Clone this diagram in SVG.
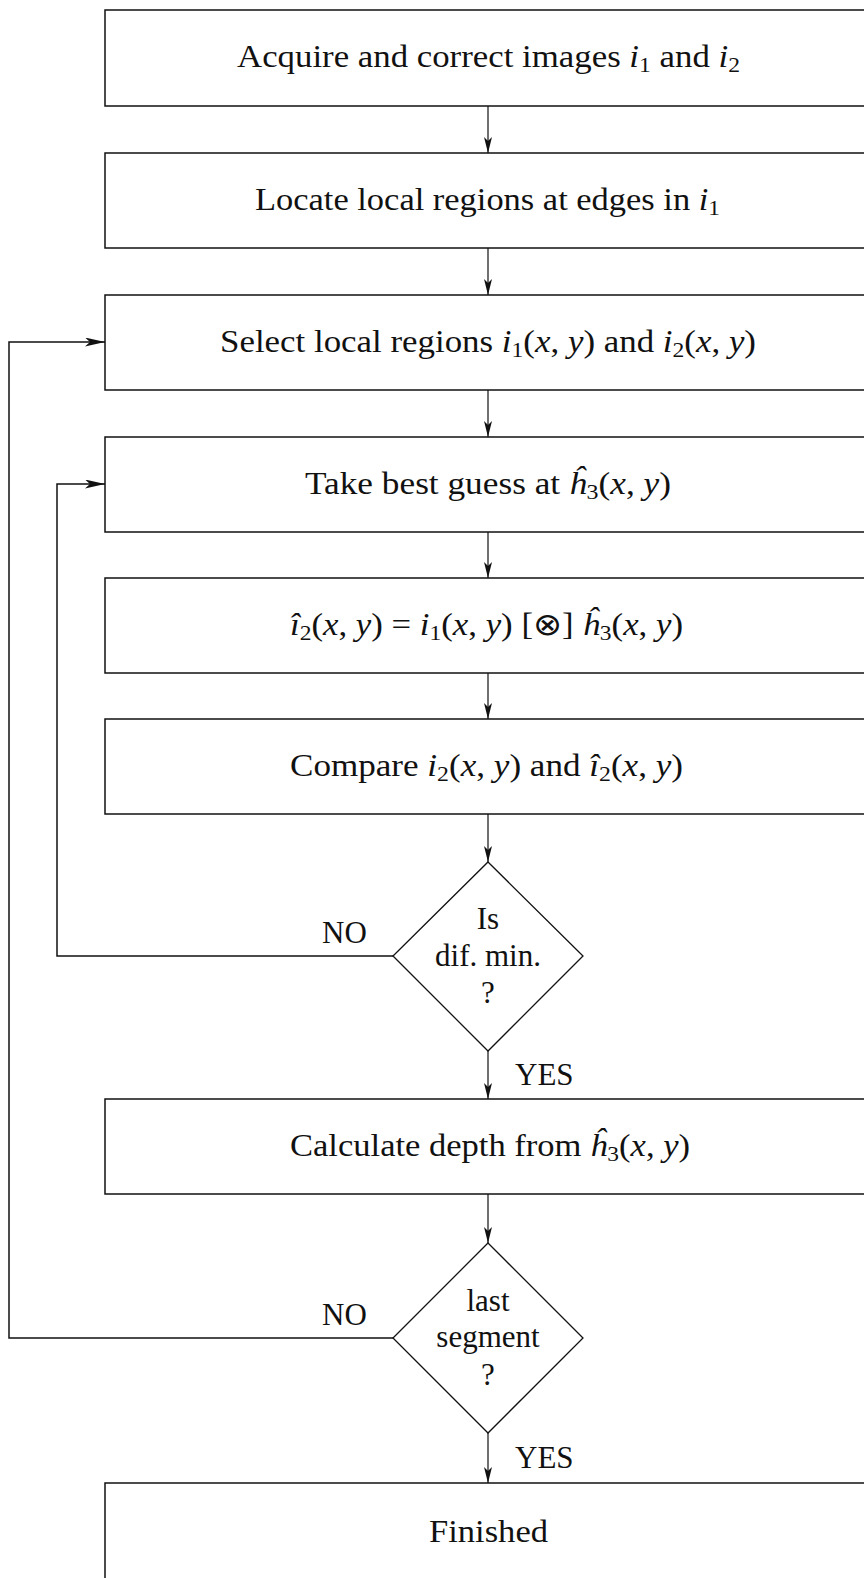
<svg xmlns="http://www.w3.org/2000/svg" width="864" height="1578" viewBox="0 0 864 1578">
<style>
  .box { fill: #fff; stroke: #111; stroke-width: 1.5; }
  .dia { fill: #fff; stroke: #111; stroke-width: 1.3; }
  .con { fill: none; stroke: #111; stroke-width: 1.2; }
  .conL { fill: none; stroke: #111; stroke-width: 1.5; }
  text { font-family: "Liberation Serif", "Times New Roman", serif; font-size: 31px; fill: #111; }
  .c { text-anchor: middle; }
  .m { font-style: italic; }
  .s { font-size: 21px; }
</style>
<defs>
  <marker id="arrS" markerUnits="userSpaceOnUse" viewBox="0 0 16 8" refX="16" refY="4" markerWidth="16" markerHeight="8" orient="auto">
    <path d="M0,0 L16,4 L0,8 L4,4 z" fill="#111"/>
  </marker>
  <marker id="arrL" markerUnits="userSpaceOnUse" viewBox="0 0 20 9" refX="20" refY="4.5" markerWidth="20" markerHeight="9" orient="auto">
    <path d="M0,0 L20,4.5 L0,9 L5,4.5 z" fill="#111"/>
  </marker>
</defs>

<g id="connectors">
  <line class="con" x1="488" y1="106" x2="488" y2="153" marker-end="url(#arrS)"/>
  <line class="con" x1="488" y1="248" x2="488" y2="295" marker-end="url(#arrS)"/>
  <line class="con" x1="488" y1="390" x2="488" y2="437" marker-end="url(#arrS)"/>
  <line class="con" x1="488" y1="532" x2="488" y2="578" marker-end="url(#arrS)"/>
  <line class="con" x1="488" y1="673" x2="488" y2="719" marker-end="url(#arrS)"/>
  <line class="con" x1="488" y1="814" x2="488" y2="862" marker-end="url(#arrS)"/>
  <line class="con" x1="488" y1="1051" x2="488" y2="1099" marker-end="url(#arrS)"/>
  <line class="con" x1="488" y1="1194" x2="488" y2="1243" marker-end="url(#arrS)"/>
  <line class="con" x1="488" y1="1433" x2="488" y2="1483" marker-end="url(#arrS)"/>
  <polyline class="conL" points="393,956 57,956 57,484 105,484" marker-end="url(#arrL)"/>
  <polyline class="conL" points="393,1338 9,1338 9,342 105,342" marker-end="url(#arrL)"/>
</g>

<g id="n1">
  <rect class="box" x="105" y="10" width="780" height="96"/>
  <text x="237" y="67" textLength="503" lengthAdjust="spacingAndGlyphs">Acquire and correct images <tspan class="m">i</tspan><tspan class="s" dy="5">1</tspan><tspan dy="-5"> and </tspan><tspan class="m">i</tspan><tspan class="s" dy="5">2</tspan></text>
</g>
<g id="n2">
  <rect class="box" x="105" y="153" width="780" height="95"/>
  <text x="255" y="210" textLength="465" lengthAdjust="spacingAndGlyphs">Locate local regions at edges in <tspan class="m">i</tspan><tspan class="s" dy="5">1</tspan></text>
</g>
<g id="n3">
  <rect class="box" x="105" y="295" width="780" height="95"/>
  <text x="220" y="352" textLength="536" lengthAdjust="spacingAndGlyphs">Select local regions <tspan class="m">i</tspan><tspan class="s" dy="5">1</tspan><tspan dy="-5">(</tspan><tspan class="m">x</tspan>, <tspan class="m">y</tspan>) and <tspan class="m">i</tspan><tspan class="s" dy="5">2</tspan><tspan dy="-5">(</tspan><tspan class="m">x</tspan>, <tspan class="m">y</tspan>)</text>
</g>
<g id="n4">
  <rect class="box" x="105" y="437" width="780" height="95"/>
  <text x="305" y="494" textLength="366" lengthAdjust="spacingAndGlyphs">Take best guess at <tspan class="m">ĥ</tspan><tspan class="s" dy="5">3</tspan><tspan dy="-5">(</tspan><tspan class="m">x</tspan>, <tspan class="m">y</tspan>)</text>
</g>
<g id="n5">
  <rect class="box" x="105" y="578" width="780" height="95"/>
  <text x="290" y="635" textLength="393" lengthAdjust="spacingAndGlyphs"><tspan class="m">î</tspan><tspan class="s" dy="5">2</tspan><tspan dy="-5">(</tspan><tspan class="m">x</tspan>, <tspan class="m">y</tspan>) = <tspan class="m">i</tspan><tspan class="s" dy="5">1</tspan><tspan dy="-5">(</tspan><tspan class="m">x</tspan>, <tspan class="m">y</tspan>) [⊗] <tspan class="m">ĥ</tspan><tspan class="s" dy="5">3</tspan><tspan dy="-5">(</tspan><tspan class="m">x</tspan>, <tspan class="m">y</tspan>)</text>
</g>
<g id="n6">
  <rect class="box" x="105" y="719" width="780" height="95"/>
  <text x="290" y="776" textLength="393" lengthAdjust="spacingAndGlyphs">Compare <tspan class="m">i</tspan><tspan class="s" dy="5">2</tspan><tspan dy="-5">(</tspan><tspan class="m">x</tspan>, <tspan class="m">y</tspan>) and <tspan class="m">î</tspan><tspan class="s" dy="5">2</tspan><tspan dy="-5">(</tspan><tspan class="m">x</tspan>, <tspan class="m">y</tspan>)</text>
</g>
<g id="d1">
  <polygon class="dia" points="488,862 583,956 488,1051 393,956"/>
  <text class="c" x="488" y="929">Is</text>
  <text class="c" x="488" y="966">dif. min.</text>
  <text class="c" x="488" y="1003">?</text>
  <text x="322" y="943">NO</text>
  <text x="515" y="1085">YES</text>
</g>
<g id="n7">
  <rect class="box" x="105" y="1099" width="780" height="95"/>
  <text x="290" y="1156" textLength="400" lengthAdjust="spacingAndGlyphs">Calculate depth from <tspan class="m">ĥ</tspan><tspan class="s" dy="5">3</tspan><tspan dy="-5">(</tspan><tspan class="m">x</tspan>, <tspan class="m">y</tspan>)</text>
</g>
<g id="d2">
  <polygon class="dia" points="488,1243 583,1338 488,1433 393,1338"/>
  <text class="c" x="488" y="1311">last</text>
  <text class="c" x="488" y="1347">segment</text>
  <text class="c" x="488" y="1385">?</text>
  <text x="322" y="1325">NO</text>
  <text x="515" y="1468">YES</text>
</g>
<g id="n8">
  <rect class="box" x="105" y="1483" width="780" height="120"/>
  <text x="429" y="1542" textLength="119" lengthAdjust="spacingAndGlyphs">Finished</text>
</g>
</svg>
